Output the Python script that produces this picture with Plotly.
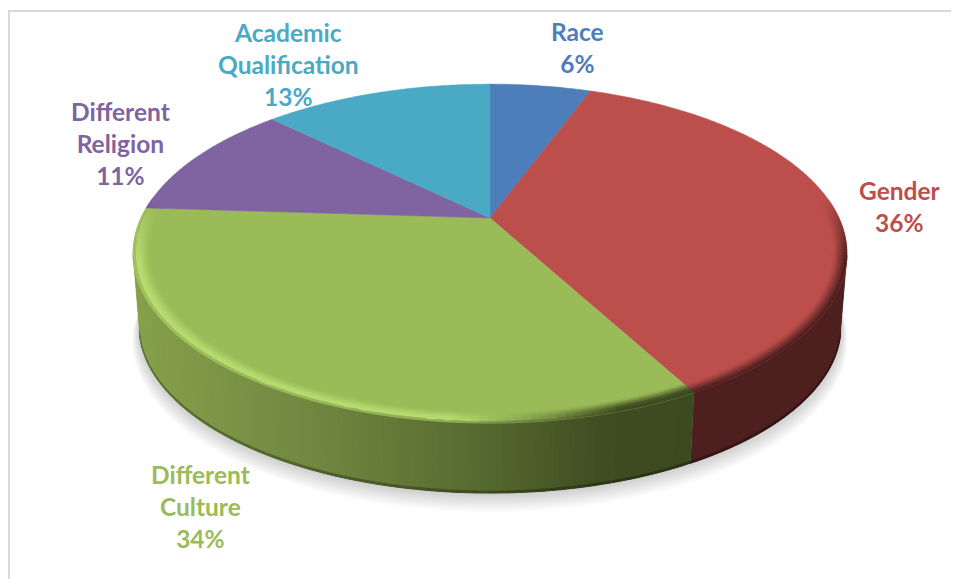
import numpy as np
import plotly.graph_objects as go

categories = ["Race", "Gender", "Different Culture", "Different Religion", "Academic Qualification"]
label_lines = ["Race", "Gender", "Different<br>Culture", "Different<br>Religion", "Academic<br>Qualification"]
shares = [5.6, 36.49, 33.91, 11.3, 12.7]
face_colors = ["#4d7eb9", "#bc4f4c", "#9bbb59", "#8063a1", "#4aa9c4"]
wall_colors = ["#3a5a80", "#4d1f1f", "#6f863f", "#5a4670", "#33788a"]

W, H = 954, 579
CX, APEX_Y = 490, 218
A, B, K = 349, 162, 0.21
S_BOT, Y_BOT = 0.983, 291.5
BEVEL = 0.05


def hexrgb(c):
    return np.array([int(c[i:i + 2], 16) for i in (1, 3, 5)], float)


def tohex(c):
    c = np.clip(np.round(np.asarray(c)), 0, 255).astype(int)
    return "#%02x%02x%02x" % tuple(c)


def project(theta, r=1.0, s=1.0, y0=APEX_Y):
    u, v = r * np.sin(theta), r * np.cos(theta)
    d = 1 + K * np.cos(theta) * r
    return CX + s * A * u / d, y0 - s * B * v / d


def green_wall(x):
    return np.array([np.interp(x, [139, 320, 490, 600, 690], ch)
                     for ch in ([0x85, 0x6f, 0x55, 0x40, 0x3c],
                                [0xa0, 0x86, 0x68, 0x4d, 0x4a],
                                [0x4b, 0x3f, 0x2f, 0x22, 0x20])])


edges = np.cumsum([0] + shares) / sum(shares) * 2 * np.pi
layers = {}


def add_poly(stage, color, x, y):
    key = (stage, tohex(color))
    lx, ly = layers.setdefault(key, ([], []))
    lx.extend(list(x) + [x[0], None])
    ly.extend(list(y) + [y[0], None])


def wall_color(i, x):
    if categories[i] == "Different Culture":
        return green_wall(x)
    return hexrgb(wall_colors[i])


def highlight(i, x):
    if categories[i] == "Different Culture":
        t = np.clip((x - 450) / 170, 0, 1)
        return (1 - t) * np.array([0xb8, 0xdc, 0x70]) + t * green_wall(x)
    return hexrgb(wall_colors[i])


fig = go.Figure()

# soft cast shadow under the disc
for j in range(1, 13):
    sx, sy = project(np.linspace(0, 2 * np.pi, 200), s=S_BOT + j * 0.0016, y0=Y_BOT + j * 1.25)
    fig.add_trace(go.Scatter(x=sx, y=sy, mode="lines", fill="toself", line=dict(width=0),
                             fillcolor="rgba(0,0,0,0.016)", hoverinfo="skip", showlegend=False))

# side wall: an underlay per slice runs out to the silhouette tangent, then strips carry
# the gradient; each strip overlaps the next one, which paints over the overlap
for i in range(len(shares)):
    a0, a1 = edges[i], edges[i + 1]
    n = max(int((a1 - a0) / 0.012), 2)
    th = np.linspace(a0, a1, n + 1)
    step = th[1] - th[0]
    front = th[np.cos(th) <= -K]
    if len(front) >= 2:
        xt, yt = project(front)
        xb, yb = project(front[::-1], s=S_BOT, y0=Y_BOT)
        far = xt[np.argmax(np.abs(xt - CX))]
        add_poly(-1, wall_color(i, far), list(xt) + list(xb), list(yt) + list(yb))
    for t0, t1 in zip(th[:-1], th[1:]):
        c = np.cos((t0 + t1) / 2)
        if c > -K:
            continue
        over = min(t1 + step, a1)
        xt, yt = project(np.array([t0, over]))
        xb, yb = project(np.array([over, t0]), s=S_BOT, y0=Y_BOT)
        xm, _ = project(np.array([(t0 + t1) / 2]))
        add_poly(0, wall_color(i, xm[0]), list(xt) + list(xb), list(yt) + list(yb))
        if c < -K - 0.05:
            # darker foot of the wall
            xb2, yb2 = project(np.array([over, t0]), s=S_BOT, y0=Y_BOT)
            xf, yf = project(np.array([t0, over]), s=S_BOT, y0=Y_BOT - 2.0)
            add_poly(1, wall_color(i, xm[0]) * 0.72, list(xb2) + list(xf), list(yb2) + list(yf))

# top face with rim bevel
for i in range(len(shares)):
    a0, a1 = edges[i], edges[i + 1]
    th = np.linspace(a0, a1, max(int((a1 - a0) / 0.01), 2) + 1)
    ux, uy = project(th)
    add_poly(1.5, hexrgb(face_colors[i]), [CX] + list(ux), [APEX_Y] + list(uy))
    rings = np.linspace(1 - BEVEL, 1, 8)
    th2 = np.linspace(a0, a1, max(int((a1 - a0) / 0.02), 2) + 1)
    for r0, r1 in zip(rings[:-1], rings[1:]):
        q = ((r0 + r1) / 2 - (1 - BEVEL)) / BEVEL
        for t0, t1 in zip(th2[:-1], th2[1:]):
            tm = (t0 + t1) / 2
            w = np.clip((0.12 - np.cos(tm)) / 0.35, 0, 1)
            if w <= 0:
                continue
            xi, yi = project(np.array([t0, t1]), r=r0)
            xo, yo = project(np.array([t1, t0]), r=r1)
            face = hexrgb(face_colors[i])
            hi = highlight(i, np.mean(xi))
            wl = wall_color(i, np.mean(xi))
            if categories[i] == "Different Culture":
                prof = np.interp(q, [0.15, 0.7], [0, 1])
                col = face + (hi - face) * prof
                col = col + (wl - col) * np.interp(q, [0.8, 1], [0, 0.7])
            else:
                col = face + (wl - face) * np.interp(q, [0.3, 0.95], [0, 1])
            col = face + (col - face) * w
            add_poly(2, col, list(xi) + list(xo), list(yi) + list(yo))

for (stage, color), (lx, ly) in sorted(layers.items(), key=lambda kv: kv[0][0]):
    fig.add_trace(go.Scatter(x=lx, y=ly, mode="lines", fill="toself", fillcolor=color,
                             line=dict(color=color, width=0 if stage == 0 else 0.5, simplify=False),
                             hoverinfo="skip", showlegend=False))

# slice data labels
label_pos = [(577, 47), (900, 206), (200, 506), (120, 143), (288, 64)]
for i, (lx, ly) in enumerate(label_pos):
    fig.add_annotation(x=lx, y=ly, xref="x", yref="y", showarrow=False, align="center",
                       text=f"<b>{label_lines[i]}<br>{round(shares[i])}%</b>",
                       font=dict(family="Lato", size=24.5, color=face_colors[i]))

frame = dict(type="path", path=f"M 9 {H} L 9 11 L 951 11", line=dict(color="#d9d9d9", width=2), xref="x", yref="y")
fig.add_shape(**frame)

fig.update_layout(width=W, height=H, margin=dict(l=0, r=0, t=0, b=0), autosize=False,
                  paper_bgcolor="white", plot_bgcolor="white", showlegend=False,
                  xaxis=dict(range=[0, W], visible=False, fixedrange=True),
                  yaxis=dict(range=[H, 0], visible=False, fixedrange=True))
fig.write_html("out.html", config={"displayModeBar": False},
               post_script="document.body.style.margin='0';document.body.style.overflow='hidden';")
